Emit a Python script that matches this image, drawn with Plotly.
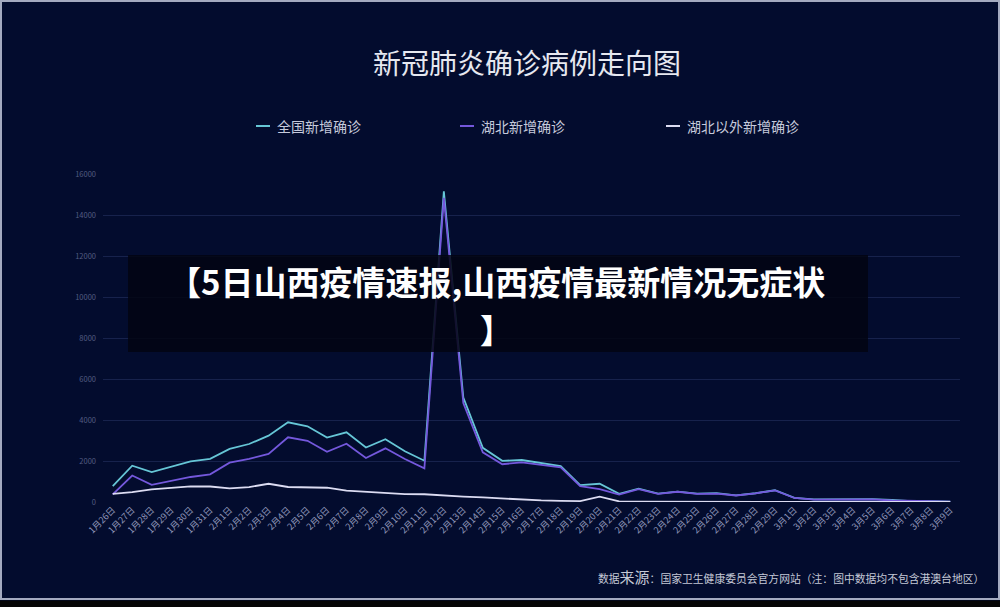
import plotly.graph_objects as go

dates = (["1月%d日" % d for d in range(26, 32)] +
         ["2月%d日" % d for d in range(1, 30)] +
         ["3月%d日" % d for d in range(1, 10)])

national = [769, 1771, 1459, 1737, 1982, 2102, 2590, 2829, 3235, 3887, 3694, 3143, 3399, 2656,
            3062, 2478, 2015, 15152, 5090, 2641, 2009, 2048, 1886, 1749, 820, 889, 397, 648,
            409, 508, 406, 433, 327, 427, 573, 202, 125, 119, 139, 143, 99, 44, 40, 19]
hubei = [371, 1291, 840, 1032, 1220, 1347, 1921, 2103, 2345, 3156, 2987, 2447, 2841, 2147,
         2618, 2097, 1638, 14840, 4823, 2420, 1843, 1933, 1807, 1693, 775, 631, 366, 630,
         398, 499, 401, 409, 318, 423, 570, 196, 114, 115, 134, 126, 74, 41, 36, 17]
outside = [398, 480, 619, 705, 762, 755, 669, 726, 890, 731, 707, 696, 558, 509, 444, 381,
           377, 312, 267, 221, 166, 115, 79, 56, 45, 258, 31, 18, 11, 9, 5, 24, 9, 4, 3, 6,
           11, 4, 5, 17, 25, 3, 4, 2]

series_names = ["全国新增确诊", "湖北新增确诊", "湖北以外新增确诊"]
series_colors = ["#66c6d6", "#7458dc", "#dcdcf2"]
y_ticks = [0, 2000, 4000, 6000, 8000, 10000, 12000, 14000, 16000]

W, H = 1000, 607
L, R, T, B = 103, 40, 174, 105
PW, PH = W - L - R, H - T - B


def px(x):
    return (x - L) / PW


def py(y):
    return (H - B - y) / PH


bg = "#030c2e"
fig = go.Figure()
for name, vals, col in zip(series_names, [national, hubei, outside], series_colors):
    fig.add_trace(go.Scatter(x=list(range(len(dates))), y=vals, mode="lines", name=name,
                             line=dict(color=col, width=1.8), showlegend=False))

fig.update_layout(
    width=W, height=H,
    paper_bgcolor=bg, plot_bgcolor=bg,
    margin=dict(l=L, r=R, t=T, b=B, autoexpand=False),
    font=dict(family="Noto Sans CJK SC, Noto Sans, sans-serif"),
    xaxis=dict(tickmode="array", tickvals=list(range(len(dates))), ticktext=dates,
               range=[-0.5, len(dates) - 0.5], tickangle=-45, showgrid=False, zeroline=False,
               tickfont=dict(size=9, color="#9097ba"), ticks="", showline=False),
    yaxis=dict(range=[0, 16000], tickvals=y_ticks, tickformat="d", showgrid=True,
               gridcolor="#17224c", gridwidth=1, zeroline=False,
               tickfont=dict(size=7.5, color="#545c82"), ticks="", ticklabelstandoff=6),
)

# title
fig.add_annotation(text="新冠肺炎确诊病例走向图", x=px(527), y=py(62), xref="paper", yref="paper",
                   showarrow=False, font=dict(size=28, color="#e6e8f0"),
                   xanchor="center", yanchor="middle")

# legend (manual)
leg_x = [256, 460, 666]
for lx, name, col in zip(leg_x, series_names, series_colors):
    fig.add_shape(type="line", xref="paper", yref="paper",
                  x0=px(lx), x1=px(lx + 14), y0=py(126), y1=py(126),
                  line=dict(color=col, width=2))
    fig.add_annotation(text=name, x=px(lx + 19), y=py(126),
                       xref="paper", yref="paper", showarrow=False, xanchor="left",
                       yanchor="middle", font=dict(size=14, color="#c6cadc"))

# source note
fig.add_annotation(
    text="数据<span style='font-size:15px'>来源</span>：国家卫生健康委员会官方网站（注：图中数据均不包含港澳台地区）",
    x=px(986), y=py(576), xref="paper", yref="paper", showarrow=False,
    xanchor="right", yanchor="middle", font=dict(size=10.8, color="#c4c8d6"))

# overlay banner
fig.add_shape(type="rect", xref="paper", yref="paper",
              x0=px(128), x1=px(868), y0=py(352), y1=py(255),
              fillcolor="rgba(2,5,18,0.85)", line=dict(width=0), layer="above")
fig.add_annotation(text="<b>【5日山西疫情速报,山西疫情最新情况无症状</b>", x=px(496),
                   y=py(281), xref="paper", yref="paper", showarrow=False,
                   xanchor="center", yanchor="middle",
                   font=dict(size=33, color="#ffffff", family="Noto Sans CJK SC", weight=900))
fig.add_annotation(text="<b>】</b>", x=px(496),
                   y=py(329), xref="paper", yref="paper", showarrow=False,
                   xanchor="center", yanchor="middle",
                   font=dict(size=33, color="#ffffff", family="Noto Sans CJK SC", weight=900))

# frame
fig.add_shape(type="rect", xref="paper", yref="paper",
              x0=px(1), x1=px(999), y0=py(599), y1=py(1),
              line=dict(color="#a4aac0", width=2), fillcolor="rgba(0,0,0,0)")
fig.add_shape(type="rect", xref="paper", yref="paper",
              x0=px(0), x1=px(1000), y0=py(607), y1=py(600.5),
              line=dict(width=0), fillcolor="#050505")

fig.write_html("out.html", config={"displayModeBar": False},
               post_script="document.body.style.margin='0';document.body.style.overflow='hidden';")
